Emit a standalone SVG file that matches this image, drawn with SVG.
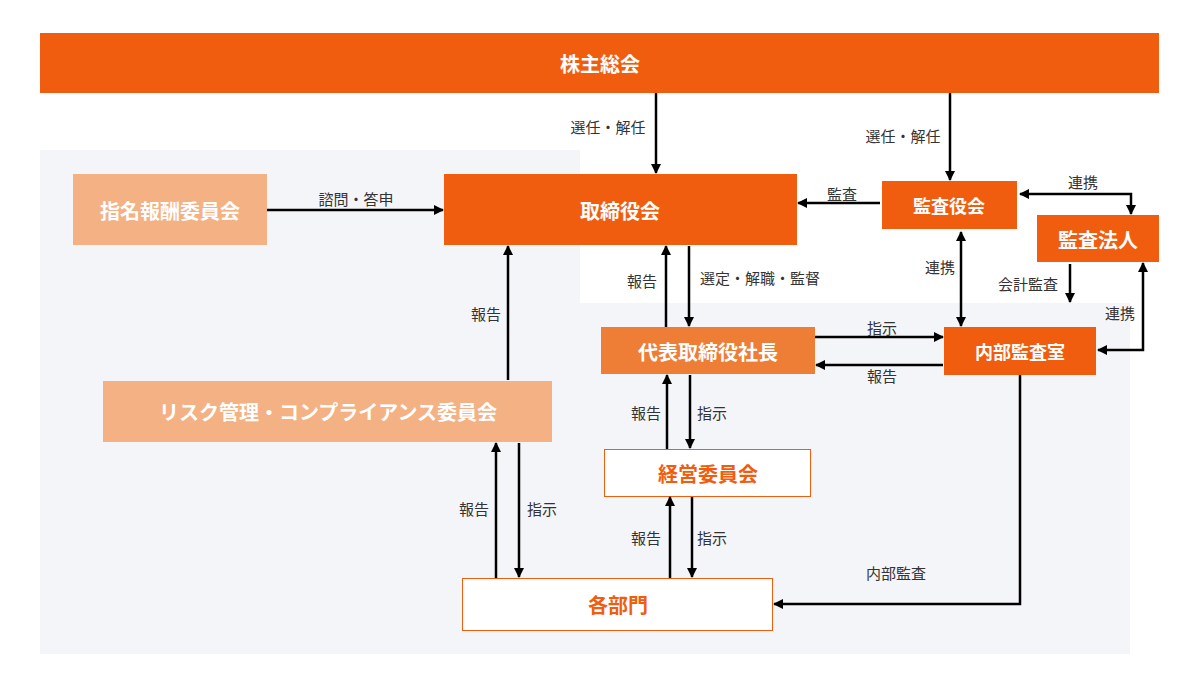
<svg xmlns="http://www.w3.org/2000/svg" width="1200" height="675" viewBox="0 0 1200 675">
<defs>
<marker id="a" viewBox="0 0 10 10" refX="9" refY="5" markerWidth="4" markerHeight="4" orient="auto-start-reverse"><path d="M0,0 L10,5 L0,10 z" fill="#000"/></marker>
<style>
.n{font-family:"Noto Sans CJK JP","Noto Sans",sans-serif;font-weight:bold;font-size:20px;text-anchor:middle;dominant-baseline:central;fill:#fff}
.o{fill:#F15D0E}
.l{font-family:"Noto Sans CJK JP","Noto Sans",sans-serif;font-size:15px;fill:#333;text-anchor:middle;dominant-baseline:central}
.c path{fill:none;stroke:#000;stroke-width:2.5;marker-end:url(#a)}
</style>
</defs>
<rect width="1200" height="675" fill="#fff"/>
<path d="M40,150 H580 V303 H1130 V654 H40 Z" fill="#F4F5F9"/>
<g id="kabunushi"><rect x="40" y="33" width="1119" height="60" class="o"/><text x="600" y="63" class="n">株主総会</text></g>
<g id="torishimariyakukai"><rect x="444" y="174" width="353" height="71" class="o"/><text x="620" y="210" class="n">取締役会</text></g>
<g id="shimei"><rect x="73" y="174" width="194" height="71" fill="#F4B183"/><text x="170" y="210" class="n">指名報酬委員会</text></g>
<g id="kansayakukai"><rect x="882" y="181" width="135" height="48" class="o"/><text x="949" y="205" class="n" style="font-size:18px">監査役会</text></g>
<g id="kansahojin"><rect x="1037" y="215" width="122" height="47" class="o"/><text x="1098" y="239" class="n">監査法人</text></g>
<g id="shacho"><rect x="601" y="327" width="214" height="47" fill="#EE7D35"/><text x="708" y="351" class="n">代表取締役社長</text></g>
<g id="naibu"><rect x="944" y="327" width="152" height="48" class="o"/><text x="1020" y="351" class="n" style="font-size:18px">内部監査室</text></g>
<g id="risk"><rect x="103" y="381" width="449" height="61" fill="#F4B183"/><text x="328" y="411" class="n">リスク管理・コンプライアンス委員会</text></g>
<g id="keiei"><rect x="604.5" y="449.5" width="206" height="47" fill="#fff" stroke="#F15D0E"/><text x="708" y="473" class="n" style="fill:#F15D0E">経営委員会</text></g>
<g id="kakubumon"><rect x="462.5" y="578.5" width="310" height="52" fill="#fff" stroke="#F15D0E"/><text x="618" y="604" class="n" style="fill:#F15D0E">各部門</text></g>
<g class="c">
<path d="M656,93 V173"/>
<path d="M950,93 V180"/>
<path d="M880,203 H798"/>
<path d="M1020,194 H1131 V214" style="marker-start:url(#a)"/>
<path d="M1070,264 V302"/>
<path d="M1098,350 H1143 V263" style="marker-start:url(#a)"/>
<path d="M961,232 V326" style="marker-start:url(#a)"/>
<path d="M666,327 V246"/>
<path d="M689,246 V326"/>
<path d="M815,337 H943"/>
<path d="M943,365 H816"/>
<path d="M667,449 V375"/>
<path d="M690,375 V448"/>
<path d="M670,578 V497"/>
<path d="M692,497 V577"/>
<path d="M496,578 V443"/>
<path d="M519,443 V577"/>
<path d="M508,380 V246"/>
<path d="M267,210 H443"/>
<path d="M1020,375 V604 H774"/>
</g>
<g>
<text x="608" y="126" class="l">選任・解任</text>
<text x="903" y="135" class="l">選任・解任</text>
<text x="842" y="193" class="l">監査</text>
<text x="1083" y="181" class="l">連携</text>
<text x="1028" y="283" class="l">会計監査</text>
<text x="1120" y="312" class="l">連携</text>
<text x="940" y="266" class="l">連携</text>
<text x="642" y="280" class="l">報告</text>
<text x="760" y="277" class="l">選定・解職・監督</text>
<text x="882" y="327" class="l">指示</text>
<text x="882" y="375" class="l">報告</text>
<text x="646" y="412" class="l">報告</text>
<text x="712" y="412" class="l">指示</text>
<text x="646" y="537" class="l">報告</text>
<text x="712" y="537" class="l">指示</text>
<text x="474" y="508" class="l">報告</text>
<text x="542" y="508" class="l">指示</text>
<text x="486" y="313" class="l">報告</text>
<text x="356" y="198" class="l">諮問・答申</text>
<text x="896" y="572" class="l">内部監査</text>
</g>
</svg>
